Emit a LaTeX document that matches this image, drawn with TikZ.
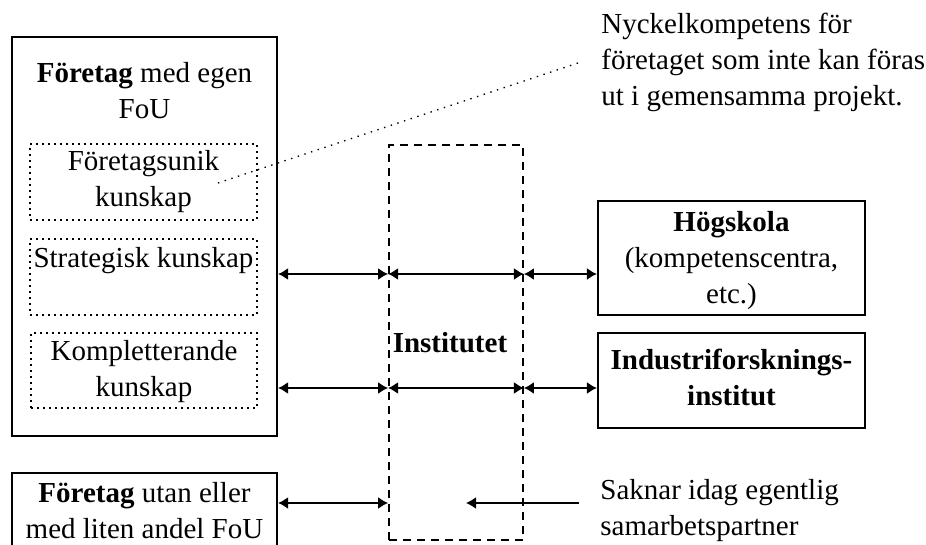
\documentclass[tikz,border=0pt]{standalone}
\usepackage{fontspec}
\setmainfont{Liberation Serif}
\usetikzlibrary{arrows.meta,fit}

\begin{document}
\begin{tikzpicture}[x=.5pt,y=-.5pt,font=\fontsize{14.5}{18}\selectfont,
	box/.style={draw,line width=1.1pt,inner sep=0pt},
	dotbox/.style={draw,line width=.9pt,dash pattern=on .9pt off 2.1pt,inner sep=0pt},
	instbox/.style={draw,line width=.9pt,dash pattern=on 4pt off 3pt,inner sep=0pt},
	txt/.style={align=center,inner sep=0pt},
	ledare/.style={line width=.7pt,dash pattern=on .7pt off 2.8pt},
	pil/.style={line width=.8pt,-{Latex[length=5pt,width=6pt]}},
	dpil/.style={line width=.8pt,{Latex[length=5pt,width=6pt]}-{Latex[length=5pt,width=6pt]}}]
	\useasboundingbox (0,0) rectangle (926,545);
	\clip (0,0) rectangle (926,545);
	% foretag med egen FoU
	\node [box, fit={(12,37) (277,436)}] (foretag) {};
	\node [txt] (foretagtext) at (144.5,91) {\textbf{Företag} med egen\\FoU};
	\node [dotbox, fit={(30,144) (257,220)}] (unik) {};
	\node [txt] (uniktext) at (143.5,182) {Företagsunik\\kunskap};
	\node [dotbox, fit={(30,239) (257,315)}] (strat) {};
	\node [txt] (strattext) at (143.5,261) {Strategisk kunskap};
	\node [dotbox, fit={(31,333) (257,408)}] (kompl) {};
	\node [txt] (kompltext) at (144,372) {Kompletterande\\kunskap};
	% foretag utan FoU
	\node [box, fit={(12,473) (277,565)}] (liten) {};
	\node [txt] (litentext) at (144.5,511) {\textbf{Företag} utan eller\\med liten andel FoU};
	% institutet
	\node [instbox, fit={(389,145) (523,540)}] (inst) {};
	\node [txt] (insttext) at (450,343) {\textbf{Institutet}};
	% hogskola och industriforskningsinstitut
	\node [box, fit={(598,201) (865,315)}] (hogskola) {};
	\node [txt] (hogskolatext) at (731.5,261) {\textbf{Högskola}\\(kompetenscentra,\\etc.)};
	\node [box, fit={(598,333) (865,428)}] (industri) {};
	\node [txt] (industritext) at (731.5,377) {\textbf{Industriforsknings-}\\\textbf{institut}};
	% kommentarer
	\node [txt, align=left, anchor=west] (nyckel) at (601,62) {Nyckelkompetens för\\företaget som inte kan föras\\ut i gemensamma projekt.};
	\node [txt, align=left, anchor=west] (saknar) at (600,511) {Saknar idag egentlig\\samarbetspartner};
	\coordinate (ledfran) at (218,183);
	\coordinate (ledtill) at (578,63);
	\draw [ledare] (ledfran) -- (ledtill);
	% pilar
	\coordinate (rad1) at (0,274);
	\coordinate (rad2) at (0,388);
	\coordinate (rad3) at (0,503);
	\foreach \rad/\mal in {rad1/hogskola, rad2/industri} {
		\draw [dpil] (foretag.east |- \rad) -- (inst.west |- \rad);
		\draw [dpil] (inst.west |- \rad) -- (inst.east |- \rad);
		\draw [dpil] (inst.east |- \rad) -- (\mal.west |- \rad);
	}
	\draw [dpil] (liten.east |- rad3) -- (inst.west |- rad3);
	\coordinate (sakfran) at (579,503);
	\coordinate (saktill) at (466,503);
	\draw [pil] (sakfran) -- (saktill);
\end{tikzpicture}
\end{document}
